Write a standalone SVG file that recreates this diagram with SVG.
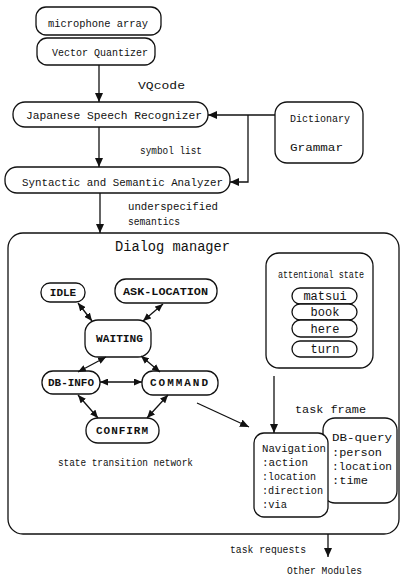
<svg xmlns="http://www.w3.org/2000/svg" width="402" height="580" viewBox="0 0 402 580">
<defs>
<marker id="ah" markerUnits="userSpaceOnUse" markerWidth="9" markerHeight="8" refX="9" refY="4" orient="auto-start-reverse">
<path d="M0,0 L9,4 L0,8 z" fill="#111"/>
</marker>
<marker id="sh" markerUnits="userSpaceOnUse" markerWidth="8" markerHeight="7" refX="8" refY="3.5" orient="auto-start-reverse">
<path d="M0,0 L8,3.5 L0,7 z" fill="#111"/>
</marker>
</defs>
<style>
.b{fill:#fff;stroke:#111;stroke-width:1.3}
.t{font-family:"Liberation Mono","DejaVu Sans Mono",monospace;font-size:11.5px;fill:#111}
.s{font-family:"Liberation Mono","DejaVu Sans Mono",monospace;font-size:11px;font-weight:bold;fill:#111}
.l{fill:none;stroke:#111;stroke-width:1.3}
</style>
<rect width="402" height="580" fill="#fff"/>

<g id="dialog-manager">
<rect class="b" x="8" y="233" width="391" height="301" rx="15"/>
<text class="t" x="115" y="251" style="font-size:14.5px" textLength="115" lengthAdjust="spacingAndGlyphs">Dialog manager</text>
<text class="t" x="58" y="466" textLength="135" lengthAdjust="spacingAndGlyphs">state transition network</text>
</g>

<g id="microphone-array">
<rect class="b" x="36" y="7" width="125" height="28" rx="10"/>
<text class="t" x="48" y="27" textLength="100" lengthAdjust="spacingAndGlyphs">microphone array</text>
</g>
<g id="vector-quantizer">
<rect class="b" x="37" y="38" width="118" height="27" rx="10"/>
<text class="t" x="52" y="56" textLength="96" lengthAdjust="spacingAndGlyphs">Vector Quantizer</text>
</g>
<g id="speech-recognizer">
<rect class="b" x="13" y="102" width="195" height="25" rx="12"/>
<text class="t" x="26" y="119" textLength="176" lengthAdjust="spacingAndGlyphs">Japanese Speech Recognizer</text>
</g>
<g id="dictionary-grammar">
<rect class="b" x="275" y="102" width="88" height="61" rx="12"/>
<text class="t" x="290" y="122" textLength="60" lengthAdjust="spacingAndGlyphs">Dictionary</text>
<text class="t" x="290" y="151" textLength="53" lengthAdjust="spacingAndGlyphs">Grammar</text>
</g>
<g id="analyzer">
<rect class="b" x="5" y="167" width="225" height="26" rx="12"/>
<text class="t" x="22" y="186" textLength="201" lengthAdjust="spacingAndGlyphs">Syntactic and Semantic Analyzer</text>
</g>

<g id="idle">
<rect class="b" x="41" y="283" width="44" height="19" rx="9"/>
<text class="s" x="63" y="296" text-anchor="middle">IDLE</text>
</g>
<g id="ask-location">
<rect class="b" x="115" y="279" width="102" height="24" rx="11"/>
<text class="s" x="123" y="295" textLength="85" lengthAdjust="spacingAndGlyphs">ASK-LOCATION</text>
</g>
<g id="waiting">
<rect class="b" x="85" y="320" width="66" height="37" rx="13"/>
<text class="s" x="96" y="342" textLength="47" lengthAdjust="spacingAndGlyphs">WAITING</text>
</g>
<g id="db-info">
<rect class="b" x="42" y="371" width="58" height="23" rx="11"/>
<text class="s" x="48" y="386" textLength="46" lengthAdjust="spacingAndGlyphs">DB-INFO</text>
</g>
<g id="command">
<rect class="b" x="142" y="371" width="76" height="24" rx="11"/>
<text class="s" x="150" y="386" textLength="58">COMMAND</text>
</g>
<g id="confirm">
<rect class="b" x="86" y="418" width="73" height="25" rx="12"/>
<text class="s" x="96" y="434" textLength="52">CONFIRM</text>
</g>

<g id="attentional-state">
<rect class="b" x="266" y="253" width="107" height="115" rx="13"/>
<text class="t" x="278" y="278" textLength="86" lengthAdjust="spacingAndGlyphs">attentional state</text>
<rect class="b" x="292" y="288" width="65" height="16" rx="8"/>
<rect class="b" x="292" y="304" width="65" height="16" rx="8"/>
<rect class="b" x="292" y="320" width="65" height="17" rx="8.5"/>
<rect class="b" x="292" y="341" width="65" height="16" rx="8"/>
<text class="t" x="325" y="300" text-anchor="middle" style="font-size:12px">matsui</text>
<text class="t" x="325" y="316" text-anchor="middle" style="font-size:12px">book</text>
<text class="t" x="325" y="333" text-anchor="middle" style="font-size:12px">here</text>
<text class="t" x="325" y="353" text-anchor="middle" style="font-size:12px">turn</text>
</g>

<g id="db-query">
<rect class="b" x="323" y="418" width="74" height="85" rx="12"/>
<text class="t" x="332" y="441" textLength="60" lengthAdjust="spacingAndGlyphs">DB-query</text>
<text class="t" x="332" y="456" textLength="50" lengthAdjust="spacingAndGlyphs">:person</text>
<text class="t" x="332" y="470" textLength="60" lengthAdjust="spacingAndGlyphs">:location</text>
<text class="t" x="332" y="484" textLength="36" lengthAdjust="spacingAndGlyphs">:time</text>
</g>
<g id="navigation">
<rect class="b" x="254" y="433" width="74" height="84" rx="10"/>
<text class="t" x="262" y="452" textLength="64" lengthAdjust="spacingAndGlyphs">Navigation</text>
<text class="t" x="262" y="466" textLength="46" lengthAdjust="spacingAndGlyphs">:action</text>
<text class="t" x="262" y="480" textLength="54" lengthAdjust="spacingAndGlyphs">:location</text>
<text class="t" x="262" y="494" textLength="61" lengthAdjust="spacingAndGlyphs">:direction</text>
<text class="t" x="262" y="508" textLength="25" lengthAdjust="spacingAndGlyphs">:via</text>
</g>

<g id="labels">
<text class="t" x="138" y="89" textLength="47" lengthAdjust="spacingAndGlyphs">VQcode</text>
<text class="t" x="140" y="154" textLength="62" lengthAdjust="spacingAndGlyphs">symbol list</text>
<text class="t" x="128" y="210" textLength="90" lengthAdjust="spacingAndGlyphs">underspecified</text>
<text class="t" x="128" y="225" textLength="52" lengthAdjust="spacingAndGlyphs">semantics</text>
<text class="t" x="295" y="413" textLength="71" lengthAdjust="spacingAndGlyphs">task frame</text>
<text class="t" x="230" y="553" textLength="76" lengthAdjust="spacingAndGlyphs">task requests</text>
<text class="t" x="287" y="574" textLength="75" lengthAdjust="spacingAndGlyphs">Other Modules</text>
</g>

<g id="connectors">
<line class="l" x1="99" y1="65" x2="99" y2="102" marker-end="url(#ah)"/>
<line class="l" x1="99" y1="127" x2="99" y2="167" marker-end="url(#ah)"/>
<line class="l" x1="100" y1="193" x2="100" y2="233" marker-end="url(#ah)"/>
<line class="l" x1="275" y1="115" x2="208" y2="115" marker-end="url(#ah)"/>
<polyline class="l" points="248,115 248,182 230,182" marker-end="url(#ah)"/>
<line class="l" x1="78" y1="303" x2="92" y2="321" marker-start="url(#sh)" marker-end="url(#sh)"/>
<line class="l" x1="163" y1="304" x2="143" y2="321" marker-start="url(#sh)" marker-end="url(#sh)"/>
<line class="l" x1="106" y1="357" x2="78" y2="372" marker-start="url(#sh)" marker-end="url(#sh)"/>
<line class="l" x1="141" y1="356" x2="160" y2="372" marker-start="url(#sh)" marker-end="url(#sh)"/>
<line class="l" x1="100" y1="382" x2="142" y2="382" marker-start="url(#sh)" marker-end="url(#sh)"/>
<line class="l" x1="78" y1="395" x2="98" y2="418" marker-start="url(#sh)" marker-end="url(#sh)"/>
<line class="l" x1="168" y1="395" x2="147" y2="418" marker-start="url(#sh)" marker-end="url(#sh)"/>
<line class="l" x1="197" y1="403" x2="249" y2="427" marker-end="url(#ah)"/>
<line class="l" x1="274" y1="376" x2="274" y2="433" marker-end="url(#ah)"/>
<line class="l" x1="328" y1="534" x2="328" y2="557" marker-end="url(#ah)"/>
</g>
</svg>
